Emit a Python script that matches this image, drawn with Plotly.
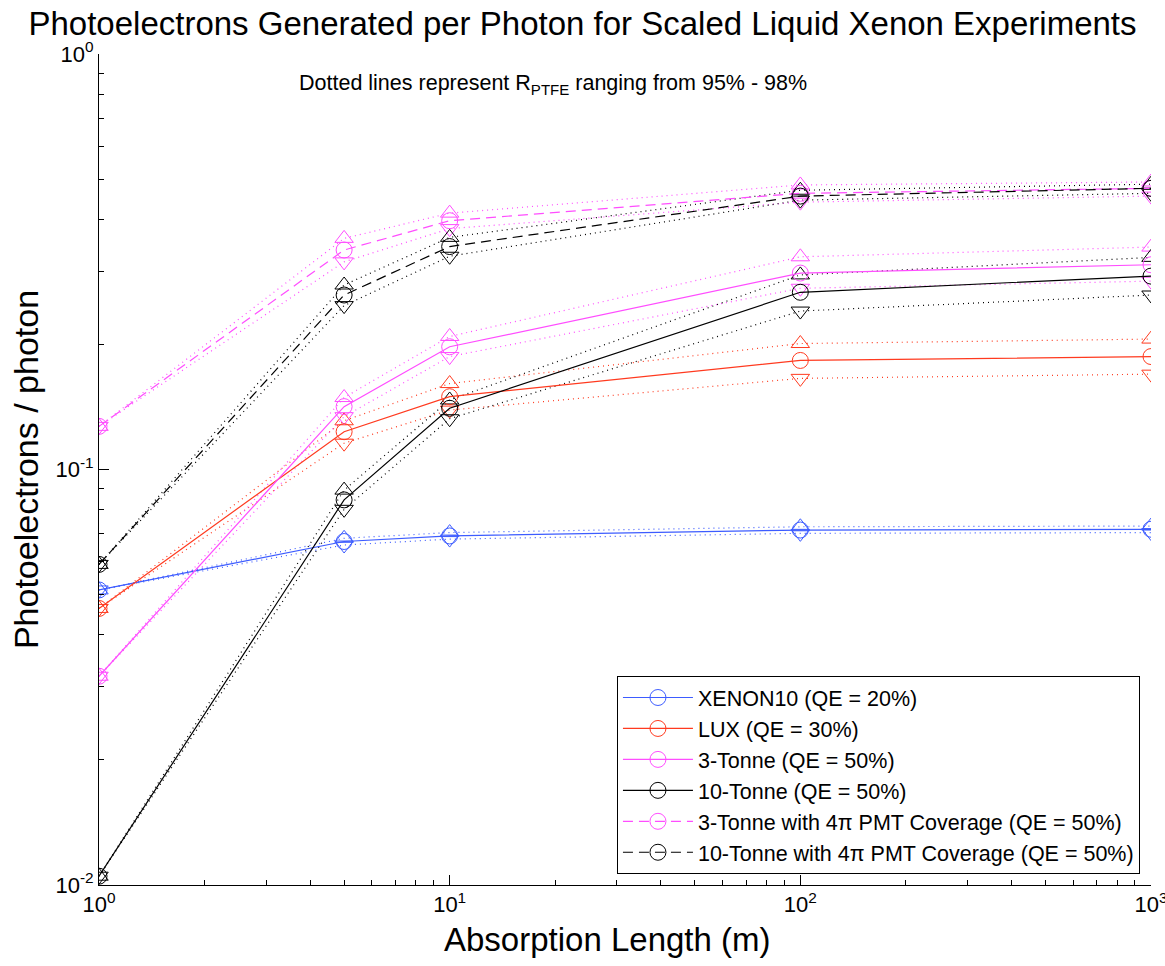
import plotly.graph_objects as go

# Absorption length (m)
x_vals = [1, 5, 10, 100, 1000]

# Central values (circles), upper (R_PTFE 98%, up-triangles), lower (R_PTFE 95%, down-triangles)
xenon10 = [0.0513, 0.0671, 0.0692, 0.0715, 0.0718]
xenon10_hi = [0.0513, 0.0683, 0.0705, 0.0728, 0.0731]
xenon10_lo = [0.0513, 0.0658, 0.0680, 0.0702, 0.0705]

lux = [0.0463, 0.1233, 0.1497, 0.183, 0.187]
lux_hi = [0.0463, 0.131, 0.161, 0.201, 0.206]
lux_lo = [0.0463, 0.1157, 0.139, 0.1657, 0.1696]

t3 = [0.0318, 0.1417, 0.1974, 0.297, 0.311]
t3_hi = [0.0318, 0.149, 0.209, 0.325, 0.343]
t3_lo = [0.0318, 0.134, 0.187, 0.273, 0.284]

t10 = [0.0105, 0.0845, 0.1404, 0.267, 0.292]
t10_hi = [0.0105, 0.0892, 0.147, 0.294, 0.324]
t10_lo = [0.0105, 0.0802, 0.1325, 0.2406, 0.263]

t3_4pi = [0.127, 0.3375, 0.397, 0.462, 0.475]
t3_4pi_hi = [0.127, 0.360, 0.414, 0.484, 0.492]
t3_4pi_lo = [0.127, 0.316, 0.380, 0.440, 0.455]

t10_4pi = [0.0591, 0.263, 0.344, 0.455, 0.475]
t10_4pi_hi = [0.0591, 0.278, 0.362, 0.470, 0.486]
t10_4pi_lo = [0.0591, 0.248, 0.326, 0.445, 0.462]

names = [
    "XENON10 (QE = 20%)",
    "LUX (QE = 30%)",
    "3-Tonne (QE = 50%)",
    "10-Tonne (QE = 50%)",
    "3-Tonne with 4\u03c0 PMT Coverage (QE = 50%)",
    "10-Tonne with 4\u03c0 PMT Coverage (QE = 50%)",
]
x_tickvals = [1, 10, 100, 1000]
x_ticktext = ["10<sup>0</sup>", "10<sup>1</sup>", "10<sup>2</sup>", "10<sup>3</sup>"]
y_tickvals = [0.01, 0.1, 1]
y_ticktext = ["10<sup>-2</sup>", "10<sup>-1</sup>", "10<sup>0</sup>"]
mantissas = [2, 3, 4, 5, 6, 7, 8, 9]
x_minor = [m * d for d in [1, 10, 100] for m in mantissas]
y_minor = [m * d for d in [0.01, 0.1] for m in mantissas]

mids = [xenon10, lux, t3, t10, t3_4pi, t10_4pi]
his = [xenon10_hi, lux_hi, t3_hi, t10_hi, t3_4pi_hi, t10_4pi_hi]
los = [xenon10_lo, lux_lo, t3_lo, t10_lo, t3_4pi_lo, t10_4pi_lo]

BLUE = "#3D5CFF"
RED = "#FF3A1F"
MAG = "#FF4DFF"
BLK = "#000000"
colors = [BLUE, RED, MAG, BLK, MAG, BLK]
dashes = ["solid", "solid", "solid", "solid", "10px,6px", "10px,6px"]
DOT = "1px,4px"

fig = go.Figure()
MS = 16
for name, mid, hi, lo, c, d in zip(names, mids, his, los, colors, dashes):
    fig.add_trace(go.Scatter(
        x=x_vals, y=hi, mode="lines+markers", showlegend=False,
        line=dict(color=c, width=1.2, dash=DOT),
        marker=dict(symbol="triangle-up-open", size=MS, color=c, line=dict(width=1)),
        hoverinfo="skip"))
    fig.add_trace(go.Scatter(
        x=x_vals, y=lo, mode="lines+markers", showlegend=False,
        line=dict(color=c, width=1.2, dash=DOT),
        marker=dict(symbol="triangle-down-open", size=MS, color=c, line=dict(width=1)),
        hoverinfo="skip"))
for name, mid, c, d in zip(names, mids, colors, dashes):
    fig.add_trace(go.Scatter(
        x=x_vals, y=mid, mode="lines+markers", name=name,
        line=dict(color=c, width=1.2, dash=d),
        marker=dict(symbol="circle-open", size=MS, color=c, line=dict(width=1))))

FONT = "Liberation Sans, Arial, Helvetica, sans-serif"

fig.update_layout(
    width=1165, height=966,
    margin=dict(l=99, r=14, t=54, b=81, autoexpand=False),
    paper_bgcolor="white", plot_bgcolor="white",
    font=dict(family=FONT, color="black", size=20),
    title=dict(text="Photoelectrons Generated per Photon for Scaled Liquid Xenon Experiments",
               x=0.5, xanchor="center", y=0.976, yanchor="middle",
               font=dict(size=33, family=FONT, color="black")),
    legend=dict(x=0.9895, y=0.0132, xanchor="right", yanchor="bottom",
                bgcolor="white", bordercolor="black", borderwidth=1,
                font=dict(size=21.5, family=FONT, color="black"),
                itemwidth=70, tracegroupgap=0),
    showlegend=True,
)

fig.update_xaxes(
    type="log", range=[0, 3], showgrid=False, zeroline=False, automargin=False,
    showline=True, linecolor="black", linewidth=1,
    ticks="inside", ticklen=10, tickcolor="black",
    tickvals=x_tickvals, ticktext=x_ticktext, ticklabeloverflow="allow",
    tickfont=dict(size=22, family=FONT),
    minor=dict(ticks="inside", ticklen=5, tickcolor="black", showgrid=False, tickvals=x_minor),
)
fig.update_yaxes(
    type="log", range=[-2, 0], showgrid=False, zeroline=False, automargin=False,
    showline=True, linecolor="black", linewidth=1,
    ticks="inside", ticklen=10, tickcolor="black",
    tickvals=y_tickvals, ticktext=y_ticktext, ticklabeloverflow="allow",
    tickfont=dict(size=22, family=FONT),
    minor=dict(ticks="inside", ticklen=5, tickcolor="black", showgrid=False, tickvals=y_minor),
    title=dict(text="Photoelectrons / photon", font=dict(size=34, family=FONT), standoff=6),
)

fig.add_annotation(
    text="Absorption Length (m)", xref="paper", yref="paper",
    x=0.483, y=-0.066, xanchor="center", yanchor="middle", showarrow=False,
    font=dict(size=33, family=FONT, color="black"))

fig.add_annotation(
    text="Dotted lines represent R<sub>PTFE</sub> ranging from 95% - 98%",
    xref="paper", yref="paper", x=0.432, y=0.963, xanchor="center", yanchor="middle",
    showarrow=False, font=dict(size=21.5, family=FONT, color="black"))

# remove the page's default 8px body margin so the figure sits at the window origin
fig.write_html("out.html",
               config={"displayModeBar": False},
               post_script="document.body.style.margin='0';document.body.style.overflow='hidden';")
